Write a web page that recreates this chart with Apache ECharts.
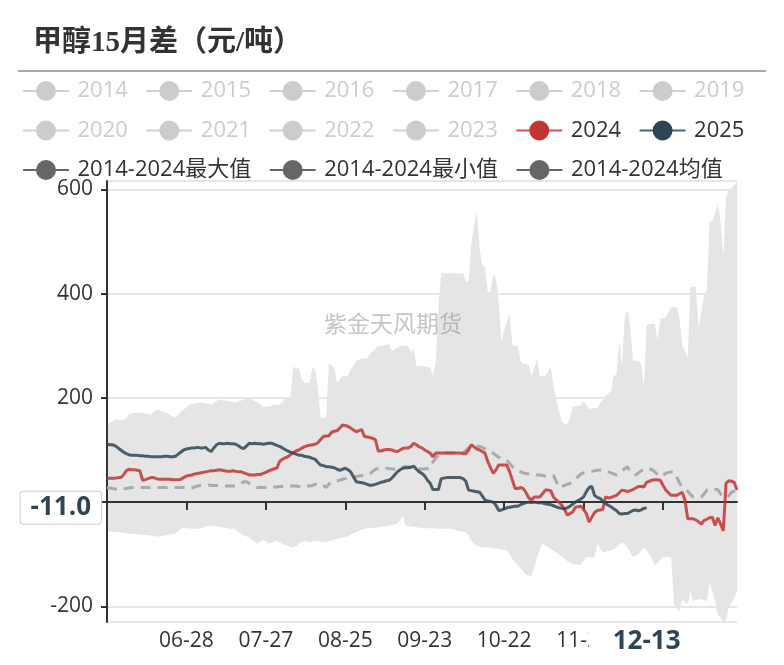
<!DOCTYPE html>
<html><head><meta charset="utf-8">
<script src="https://cdn.jsdelivr.net/npm/echarts@6/dist/echarts.min.js"></script>
<style>html,body{margin:0;padding:0;background:#fff}#c{width:784px;height:665px}</style>
</head><body><div id="c"></div>
<script>
// ---------- categories: calendar days 05-30 .. 01-15 ----------
const startDay = [2024, 4, 30];
const dayCount = 231;
const categories = [];
for (let i = 0; i < dayCount; i++) {
  const d = new Date(startDay[0], startDay[1], startDay[2] + i);
  categories.push(String(d.getMonth() + 1).padStart(2, '0') + '-' + String(d.getDate()).padStart(2, '0'));
}
const hiddenYears = ['2014','2015','2016','2017','2018','2019','2020','2021','2022','2023'];
const lastDate = '12-13';
const lastValue = -11.0;

const y2024 = [
45,46,46,46,47,47,52,60,63,62,
62,61,60,42,43,45,47,47,45,44,
44,44,44,44,43,43,43,44,47,50,
51,52,54,55,56,57,58,59,60,60,
61,62,61,60,59,59,60,59,58,58,
56,54,52,52,52,53,53,55,57,60,
62,64,65,78,82,85,87,91,95,98,
100,103,106,108,109,110,111,114,120,126,
127,127,134,136,137,142,148,147,145,142,
138,135,137,139,126,125,124,122,120,98,
98,100,101,101,100,98,97,100,103,104,
104,107,113,110,106,104,100,97,94,87,
94,94,94,94,94,94,94,94,94,94,
93,93,100,110,106,102,100,97,94,78,
66,55,62,71,71,71,71,58,42,26,
26,28,26,18,8,4,10,10,10,16,
23,23,22,10,4,0,-6,-13,-25,-22,
-19,-10,-9,-8,-14,-22,-38,-29,-20,-16,
-15,-14,10,8,9,11,13,18,23,22,
20,22,24,27,30,30,29,38,40,42,
43,43,42,32,23,18,13,13,13,16,
19,4,-32,-32,-32,-34,-38,-42,-35,-33,
-30,-29,-45,-30,-42,-55,36,41,40,38,
23];

const y2025 = [
111,110,110,108,104,100,96,93,91,90,
90,90,89,89,88,88,87,87,87,87,
87,88,88,87,87,88,92,96,100,102,
103,104,104,105,104,104,105,100,97,104,
110,113,112,112,113,112,112,111,108,104,
103,108,113,112,113,112,112,111,112,113,
113,111,109,107,104,101,98,96,94,92,
90,90,88,87,86,84,82,76,71,70,
68,68,67,66,63,61,63,65,62,58,
48,39,38,37,36,34,32,33,34,36,
38,39,41,42,46,52,58,62,65,66,
66,67,69,63,58,55,50,42,36,24,
24,24,45,46,47,47,47,47,47,47,
45,40,23,22,21,20,19,12,4,2,
1,0,-6,-16,-15,-13,-11,-10,-9,-8,
-8,-5,-3,-1,0,-1,0,-1,-1,-2,
-3,-4,-5,-7,-9,-11,-12,-13,-11,-8,
-4,0,3,6,10,20,28,30,13,9,
7,2,-3,-6,-9,-13,-16,-22,-23,-22,
-22,-19,-16,-15,-17,-15,-12,-11];

const meanVals = [
28,27,26,25,24,24,25,26,27,28,
28,28,28,28,28,28,28,28,28,28,
28,28,28,28,28,28,28,28,28,27,
27,27,29,31,32,33,33,33,32,32,
32,32,32,31,31,31,31,31,33,36,
39,39,36,32,29,28,28,28,28,28,
28,29,29,30,30,31,31,31,31,31,
30,30,30,31,31,32,34,35,36,32,
28,34,39,40,41,42,44,45,46,47,
48,49,50,51,53,54,55,59,63,64,
64,65,65,64,64,63,63,65,67,68,
68,67,66,65,64,63,64,64,65,77,
84,90,92,93,94,94,94,94,95,95,
95,99,104,108,108,107,107,105,102,100,
97,94,90,86,84,82,80,74,68,64,
61,58,56,55,54,53,53,52,52,51,
50,50,51,51,40,28,30,32,34,36,
38,44,49,54,56,57,58,59,60,61,
61,62,60,58,56,54,52,56,60,64,
68,58,55,52,56,60,63,65,64,62,
58,53,49,52,55,57,58,58,48,37,
30,26,21,15,10,10,10,10,16,23,
23,23,24,24,16,10,8,12,19,21,
23];

const maxVals = [
149,152,155,158,158,158,158,160,168,170,
171,172,172,171,170,169,168,173,177,176,
174,173,170,167,164,162,168,174,177,182,
187,188,189,190,191,190,189,188,187,190,
194,197,196,195,194,193,192,191,193,195,
197,198,198,196,194,191,187,183,183,183,
185,187,187,187,192,197,199,200,261,255,
258,236,229,229,229,258,255,216,162,162,
162,265,262,258,229,236,242,242,242,255,
262,271,273,275,276,275,284,289,294,300,
300,301,302,303,290,293,296,300,300,300,
299,287,293,261,261,261,260,259,258,242,
268,371,439,439,439,439,439,439,439,439,
439,423,423,494,530,558,487,455,449,403,
403,436,430,384,307,332,345,361,300,300,
300,270,265,265,262,242,258,274,242,242,
242,250,261,223,197,175,155,150,150,160,
184,184,185,186,194,186,178,180,180,180,
190,196,203,208,213,242,245,307,261,352,
368,339,271,271,271,266,220,339,342,342,
342,310,352,353,355,365,374,374,374,352,
300,290,278,413,413,413,332,365,397,406,
539,539,555,571,540,471,584,600,603,607,
616];

const minVals = [
-55,-56,-57,-58,-58,-59,-59,-60,-60,-61,
-61,-62,-62,-63,-63,-64,-64,-65,-66,-66,
-65,-64,-63,-62,-61,-60,-55,-51,-49,-50,
-50,-51,-51,-51,-51,-49,-47,-46,-45,-46,
-47,-47,-48,-49,-50,-51,-51,-54,-58,-61,
-64,-66,-68,-72,-76,-80,-76,-72,-76,-80,
-78,-76,-74,-77,-80,-82,-84,-86,-87,-84,
-80,-77,-74,-76,-77,-75,-74,-75,-76,-77,
-77,-75,-73,-72,-71,-70,-68,-67,-65,-62,
-60,-58,-55,-53,-51,-50,-50,-49,-49,-48,
-47,-47,-46,-45,-44,-43,-42,-35,-25,-45,
-46,-47,-47,-48,-49,-49,-50,-50,-50,-50,
-50,-51,-51,-51,-51,-51,-52,-53,-55,-56,
-57,-58,-65,-73,-80,-83,-85,-87,-87,-87,
-87,-88,-89,-90,-91,-92,-93,-100,-109,-115,
-121,-127,-134,-140,-141,-142,-125,-106,-92,-80,
-83,-86,-90,-93,-97,-100,-104,-108,-113,-116,
-119,-120,-120,-120,-113,-106,-106,-106,-106,-80,
-88,-96,-95,-94,-93,-90,-87,-82,-77,-82,
-87,-96,-106,-103,-100,-93,-87,-93,-100,-109,
-122,-116,-110,-106,-106,-106,-106,-196,-203,-209,
-187,-192,-196,-171,-190,-188,-187,-186,-188,-190,
-155,-172,-190,-216,-222,-230,-225,-203,-193,-184,
-170];

// ---------- chart ----------
const bandSpan = maxVals.map((v, i) => v - minVals[i]);
const FONT = '"Open Sans","Noto Sans CJK SC",sans-serif';
const NAME_MAX = '2014-2024最大值', NAME_MIN = '2014-2024最小值', NAME_MEAN = '2014-2024均值';
const labelEvery = 29;
const labelFn = (idx) => idx > 0 && idx % labelEvery === 0;
const tickFn = (idx) => idx % labelEvery === 0;

const legendSelected = {};
hiddenYears.forEach(y => legendSelected[y] = false);
const grayIcon = { itemStyle: { color: '#666' }, lineStyle: { color: '#666', width: 2, opacity: 1, type: 'solid' } };
const legendData = hiddenYears.concat(['2024', '2025']).map(n => ({ name: n }))
  .concat([NAME_MAX, NAME_MIN, NAME_MEAN].map(n => Object.assign({ name: n }, grayIcon)));

const series = [
  { name: NAME_MIN, type: 'line', data: minVals, stack: 'band', stackStrategy: 'all',
    symbol: 'circle', showSymbol: false, silent: true, itemStyle: { color: '#666' },
    lineStyle: { opacity: 0 }, z: 1 },
  { name: NAME_MAX, type: 'line', data: bandSpan, stack: 'band', stackStrategy: 'all',
    symbol: 'circle', showSymbol: false, silent: true, itemStyle: { color: '#666' },
    lineStyle: { opacity: 0 }, areaStyle: { color: '#e5e5e5', opacity: 1 }, z: 1 }
];
hiddenYears.forEach(y => series.push({ name: y, type: 'line', data: [], symbol: 'circle', showSymbol: false, itemStyle: { color: '#999' } }));
series.push({ name: NAME_MEAN, type: 'line', data: meanVals, symbol: 'circle', showSymbol: false,
  itemStyle: { color: '#666' }, lineStyle: { color: '#aaa', width: 3, type: [10, 7] }, z: 3 });
series.push({ name: '2024', type: 'line', data: y2024, symbol: 'circle', showSymbol: false,
  itemStyle: { color: '#c23531' }, lineStyle: { width: 3, opacity: 0.85 }, z: 4 });
series.push({ name: '2025', type: 'line', data: y2025, symbol: 'circle', showSymbol: false,
  itemStyle: { color: '#2f4554' }, lineStyle: { width: 3, opacity: 0.85 }, z: 5 });

const chart = echarts.init(document.getElementById('c'), null, { renderer: 'canvas' });
chart.setOption({
  animation: false,
  backgroundColor: '#fff',
  title: { text: '甲醇15月差（元/吨）', left: 28, top: 24,
    textStyle: { fontSize: 29, fontWeight: 'bold', color: '#333', fontFamily: '"Liberation Serif","Noto Sans CJK SC",serif' } },
  graphic: [
    { type: 'line', shape: { x1: 18, y1: 71, x2: 766, y2: 71 }, style: { stroke: '#aaa', lineWidth: 2 }, silent: true },
    { type: 'text', left: 324, top: 312, z: 100, silent: true,
      style: { text: '紫金天风期货', fill: 'rgba(140,140,140,0.5)', fontSize: 23, fontFamily: '"Noto Sans CJK SC",sans-serif' } }
  ],
  legend: {
    left: 22, right: 8, top: 80, orient: 'horizontal', padding: 0,
    itemWidth: 46, itemHeight: 25, itemGap: 17.5,
    textStyle: { fontSize: 22, color: '#333', fontFamily: FONT, padding: [0, 0, 0, 3.5] },
    inactiveColor: '#ccc',
    data: legendData, selected: legendSelected
  },
  grid: { left: 107, right: 47, top: 181, bottom: 43, containLabel: false },
  xAxis: [
    { type: 'category', data: categories, boundaryGap: false, position: 'bottom',
      axisLine: { show: false, onZero: false }, axisTick: { show: false },
      axisLabel: { interval: labelFn, color: '#333', fontSize: 21, fontFamily: FONT, margin: 9 },
      splitLine: { show: false },
      axisPointer: { show: true, type: 'line', value: categories.indexOf(lastDate), status: 'show', triggerTooltip: false,
        lineStyle: { opacity: 0 },
        label: { show: true, color: '#2f4554', fontSize: 26, fontWeight: 'bold', fontFamily: FONT,
          backgroundColor: '#fff', padding: [1, 24], margin: 6 } } },
    { type: 'category', data: categories, boundaryGap: false, position: 'bottom', z: 3,
      axisLine: { show: true, onZero: true, lineStyle: { color: '#333', width: 2 } },
      axisTick: { show: true, interval: tickFn, length: 8, lineStyle: { color: '#333', width: 2 } },
      axisLabel: { show: false }, splitLine: { show: false }, axisPointer: { show: false } }
  ],
  yAxis: {
    type: 'value', min: 'dataMin', max: 'dataMax', splitNumber: 5, z: 3,
    axisLine: { show: true, onZero: false, lineStyle: { color: '#333', width: 2 } },
    axisTick: { show: true, length: 6, lineStyle: { color: '#333', width: 2 } },
    axisLabel: { color: '#333', fontSize: 21, fontFamily: FONT, margin: 14, showMinLabel: false, showMaxLabel: false },
    splitLine: { show: true, lineStyle: { color: '#e6e6e6', width: 2 } },
    axisPointer: { show: true, type: 'line', value: lastValue, status: 'show', triggerTooltip: false,
      lineStyle: { opacity: 0 },
      label: { show: true, formatter: (p) => Number(p.value).toFixed(1), color: '#2f4554', fontSize: 26, fontWeight: 'bold',
        fontFamily: FONT, backgroundColor: '#fff', borderColor: '#ccc', borderWidth: 1, padding: [3, 10], margin: 6 } }
  },
  series: series
});
</script></body></html>
